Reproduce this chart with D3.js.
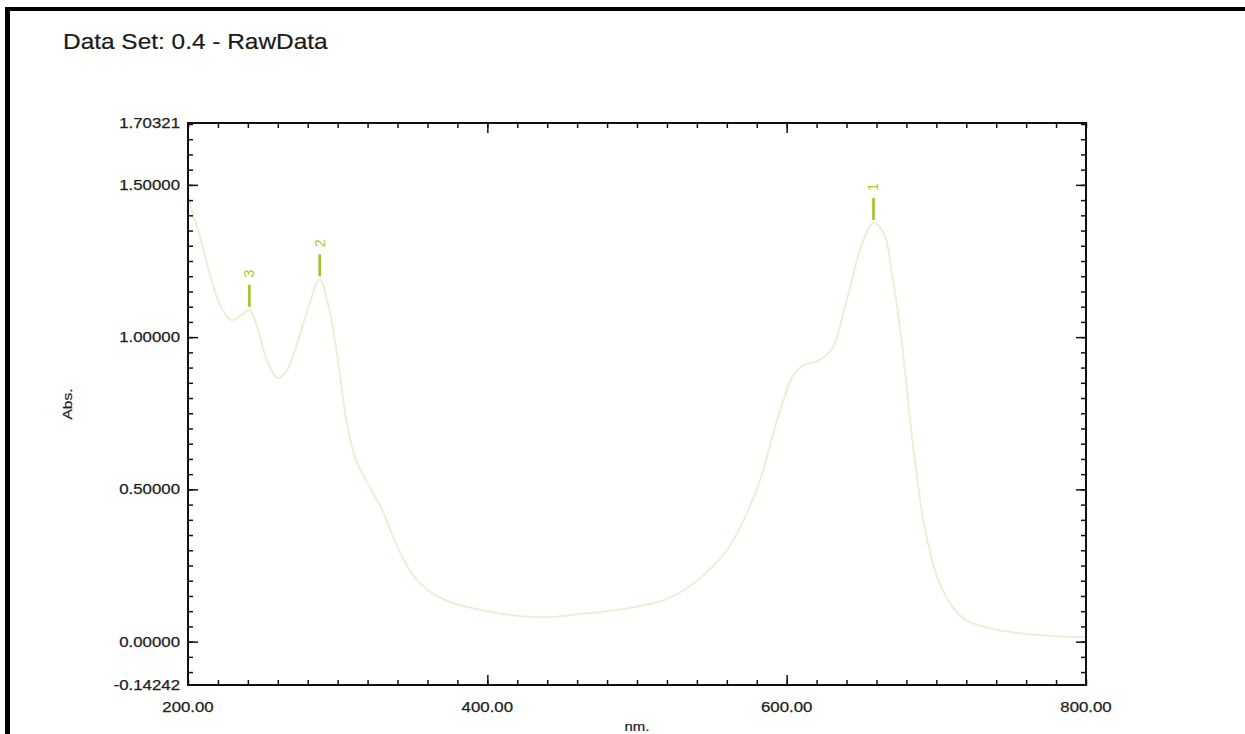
<!DOCTYPE html>
<html><head><meta charset="utf-8">
<script src="https://cdn.jsdelivr.net/npm/d3@7"></script>
<style>
html,body{margin:0;padding:0;background:#fff;}
svg{display:block;}
text{font-family:"Liberation Sans",Arial,Helvetica,sans-serif;}
</style></head>
<body>
<svg id="chart" width="1245" height="734"></svg>
<script>
const titleText = "Data Set: 0.4 - RawData";
const xLabel = "nm.";
const yLabel = "Abs.";
const wavelengths = [200,203,208,215,222,229,235,241,247,253,260,266,273,280,288,294,300,306,312,320,330,340,350,360,375,400,420,440,460,480,500,520,540,560,580,595,605,612,620,630,640,650,658,665,670,677,685,692,700,710,720,740,760,780,800];
const absorbance = [1.47,1.41,1.33,1.20,1.10,1.056,1.07,1.09,1.02,0.92,0.866,0.89,0.98,1.09,1.19,1.10,0.93,0.72,0.60,0.52,0.43,0.31,0.22,0.17,0.13,0.10,0.085,0.08,0.09,0.10,0.115,0.14,0.20,0.30,0.50,0.75,0.88,0.91,0.92,0.96,1.12,1.30,1.375,1.34,1.22,0.98,0.62,0.38,0.22,0.12,0.07,0.04,0.025,0.018,0.015];
const peakLabels = ["1","2","3"];
const peakNm = [658,288,241];
const peakAbs = [1.375,1.19,1.09];
const xTickValues = [200,400,600,800];
const xTickLabels = ["200.00","400.00","600.00","800.00"];
const yTickValues = [-0.14242,0,0.5,1.0,1.5,1.70321];
const yTickLabels = ["-0.14242","0.00000","0.50000","1.00000","1.50000","1.70321"];

const svg = d3.select("#chart");
const L=188, R=1086, T=123, B=685;
const x = d3.scaleLinear().domain([200,800]).range([L,R]);
const y = d3.scaleLinear().domain([-0.14242,1.70321]).range([B,T]);

// frame (top and left border)
svg.append("rect").attr("x",5).attr("y",7).attr("width",1240).attr("height",4).attr("fill","#000");
svg.append("rect").attr("x",5).attr("y",7).attr("width",5).attr("height",727).attr("fill","#000");

function stretch(sel, f){
  sel.each(function(){ const n=this.getComputedTextLength(); d3.select(this).attr("textLength",n*f).attr("lengthAdjust","spacingAndGlyphs"); });
}

svg.append("text").attr("x",63).attr("y",49).attr("font-size",22).attr("fill","#1a1a1a").attr("stroke","#1a1a1a").attr("stroke-width",0.2).text(titleText).call(stretch,1.11);

// curve
const line = d3.line().x((d,i)=>x(wavelengths[i])).y(d=>y(d)).curve(d3.curveCatmullRom.alpha(0.5));
svg.append("path").datum(absorbance).attr("d",line).attr("fill","none").attr("stroke","#eeeed8").attr("stroke-width",2);

// axes
const minorX = d3.range(200,801,20);
const minorY = d3.range(-0.1,1.7001,0.05).map(v=>+v.toFixed(2));
const majorY = [0,0.5,1.0,1.5];
function styleAxis(g){ g.select(".domain").remove(); g.selectAll("line").attr("stroke","#111").attr("stroke-width",1.5); g.selectAll("text").remove(); }
svg.append("g").attr("transform",`translate(0,${B})`).call(d3.axisBottom(x).tickValues(minorX).tickSize(-5).tickFormat("")).call(styleAxis);
svg.append("g").attr("transform",`translate(0,${B})`).call(d3.axisBottom(x).tickValues([400,600]).tickSize(-10).tickFormat("")).call(styleAxis);
svg.append("g").attr("transform",`translate(0,${T})`).call(d3.axisTop(x).tickValues(minorX).tickSize(-5).tickFormat("")).call(styleAxis);
svg.append("g").attr("transform",`translate(0,${T})`).call(d3.axisTop(x).tickValues([400,600]).tickSize(-10).tickFormat("")).call(styleAxis);
svg.append("g").attr("transform",`translate(${L},0)`).call(d3.axisLeft(y).tickValues(minorY).tickSize(-5).tickFormat("")).call(styleAxis);
svg.append("g").attr("transform",`translate(${L},0)`).call(d3.axisLeft(y).tickValues(majorY).tickSize(-10).tickFormat("")).call(styleAxis);
svg.append("g").attr("transform",`translate(${R},0)`).call(d3.axisRight(y).tickValues(minorY).tickSize(-5).tickFormat("")).call(styleAxis);
svg.append("g").attr("transform",`translate(${R},0)`).call(d3.axisRight(y).tickValues(majorY).tickSize(-10).tickFormat("")).call(styleAxis);
svg.append("rect").attr("x",L).attr("y",T).attr("width",R-L).attr("height",B-T).attr("fill","none").attr("stroke","#111").attr("stroke-width",2);

// tick labels
svg.append("g").selectAll("text").data(yTickValues).join("text")
  .attr("x",L-8).attr("y",d=>y(d)).attr("dy","0.35em").attr("text-anchor","end")
  .attr("font-size",14).attr("fill","#222").attr("stroke","#222").attr("stroke-width",0.25).text((d,i)=>yTickLabels[i]).call(stretch,1.2);
svg.append("g").selectAll("text").data(xTickValues).join("text")
  .attr("x",d=>x(d)).attr("y",B+27).attr("text-anchor","middle")
  .attr("font-size",14).attr("fill","#222").attr("stroke","#222").attr("stroke-width",0.25).text((d,i)=>xTickLabels[i]).call(stretch,1.2);

svg.append("text").attr("x",(L+R)/2).attr("y",731).attr("text-anchor","middle").attr("font-size",13).attr("fill","#222").attr("stroke","#222").attr("stroke-width",0.2).text(xLabel).call(stretch,1.15);
svg.append("text").attr("transform",`translate(72,${(T+B)/2}) rotate(-90)`).attr("text-anchor","middle").attr("font-size",13).attr("fill","#222").attr("stroke","#222").attr("stroke-width",0.2).text(yLabel).call(stretch,1.2);

// peak markers
const pk = svg.append("g");
peakNm.forEach((nm,i)=>{
  const px=x(nm), py=y(peakAbs[i]);
  pk.append("line").attr("x1",px).attr("x2",px).attr("y1",py-3).attr("y2",py-25).attr("stroke","#9cc41a").attr("stroke-width",2.5);
  pk.append("text").attr("transform",`translate(${px+5},${py-36}) rotate(-90)`).attr("text-anchor","middle")
    .attr("font-size",14).attr("fill","#a6cc20").text(peakLabels[i]);
});
</script>
</body></html>
